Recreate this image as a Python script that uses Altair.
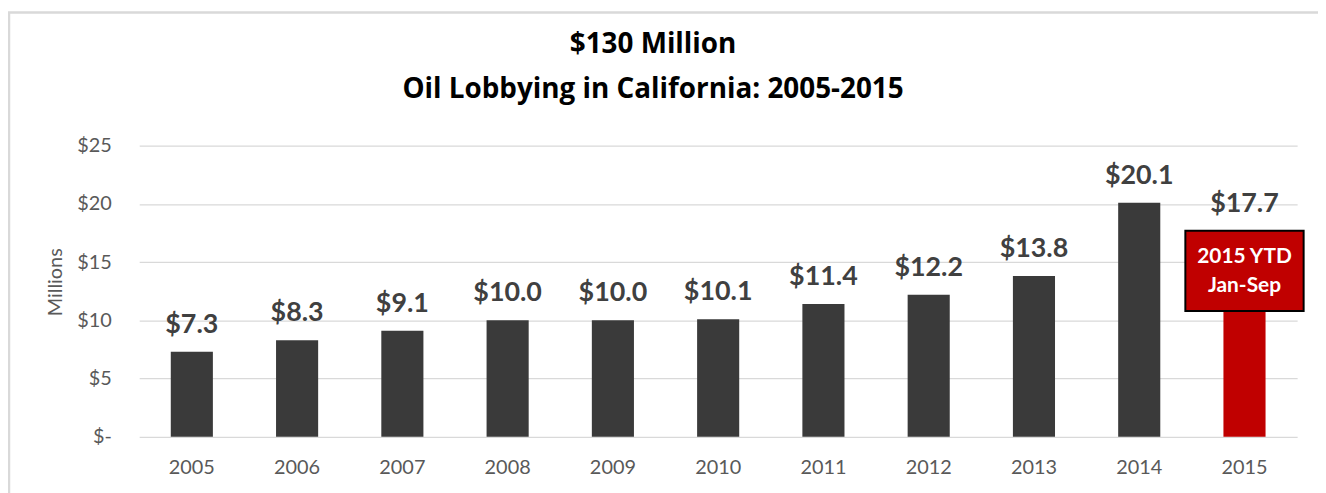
import altair as alt
import pandas as pd

years = ["2005", "2006", "2007", "2008", "2009", "2010", "2011", "2012", "2013", "2014", "2015"]
values = [7.3, 8.3, 9.1, 10.0, 10.0, 10.1, 11.4, 12.2, 13.8, 20.1, 17.7]

note_year = ["2015"]
note_top = [17.7]
note_bottom = [10.8]
note_lines = ["2015 YTD", "Jan-Sep"]
note_line_y = [14.93, 12.46]

title_lines = ["$130 Million", "Oil Lobbying in California: 2005-2015"]
y_ticks = [0, 5, 10, 15, 20, 25]

FONT = "Lato"
TITLE_FONT = "Open Sans"

df = pd.DataFrame({"year": years, "value": values})
box_df = pd.DataFrame({"year": note_year, "top": note_top, "bottom": note_bottom})
note_df = pd.DataFrame({"year": note_year * len(note_lines), "y": note_line_y, "label": note_lines})
one_df = pd.DataFrame({"k": [0]})

x_enc = alt.X(
    "year:N",
    sort=years,
    scale=alt.Scale(paddingInner=0.6, paddingOuter=0.3),
    axis=alt.Axis(
        title=None, labelAngle=0, domain=False, ticks=False,
        labelFont=FONT, labelFontSize=20, labelColor="#595959", labelPadding=21,
    ),
)
y_scale = alt.Scale(domain=[0, 25])

bars = alt.Chart(df).mark_bar().encode(
    x=x_enc,
    y=alt.Y(
        "value:Q",
        scale=y_scale,
        axis=alt.Axis(
            title="Millions", values=y_ticks, domain=False, ticks=False,
            labelExpr="datum.value == 0 ? '$-' : '$' + datum.value",
            labelFont=FONT, labelFontSize=20, labelColor="#595959", labelPadding=28,
            gridColor="#d9d9d9", gridWidth=1.2,
            titleFont=FONT, titleFontSize=20, titleFontWeight="normal", titleColor="#595959",
            titlePadding=11, titleY=137,
        ),
    ),
    color=alt.condition(alt.datum.year == "2015", alt.value("#c00000"), alt.value("#3a3a3a")),
)

labels = alt.Chart(df).mark_text(
    font=FONT, fontSize=27, fontWeight="bold", color="#404040", baseline="alphabetic", dy=-19
).encode(
    x=alt.X("year:N", sort=years),
    y=alt.Y("value:Q", scale=y_scale),
    text=alt.Text("value:Q", format="$.1f"),
)

box = alt.Chart(box_df).mark_bar(width=119, color="#c00000", stroke="#000000", strokeWidth=2).encode(
    x=alt.X("year:N", sort=years),
    y=alt.Y("top:Q", scale=y_scale),
    y2="bottom:Q",
)

note = alt.Chart(note_df).mark_text(
    font=FONT, fontSize=21, fontWeight="bold", color="white", baseline="alphabetic"
).encode(
    x=alt.X("year:N", sort=years),
    y=alt.Y("y:Q", scale=y_scale),
    text="label:N",
)

frame = alt.Chart(one_df).mark_rect(fill=None, stroke="#d9d9d9", strokeWidth=2.5).encode(
    x=alt.value(-131), x2=alt.value(1300), y=alt.value(-134), y2=alt.value(500)
)

title1 = alt.Chart(one_df).mark_text(
    font=TITLE_FONT, fontSize=28, fontWeight="bold", color="#000000", baseline="alphabetic", align="center",
    text=title_lines[0],
).encode(x=alt.value(517), y=alt.value(-93))

title2 = alt.Chart(one_df).mark_text(
    font=TITLE_FONT, fontSize=28, fontWeight="bold", color="#000000", baseline="alphabetic", align="center",
    text=title_lines[1],
).encode(x=alt.value(517), y=alt.value(-48))

chart = alt.layer(frame, bars, labels, box, note, title1, title2).properties(
    width=1165,
    height=293,
    padding={"left": 132, "top": 137, "right": 21, "bottom": 55},
    autosize=alt.AutoSizeParams(type="none"),
).configure(background="white", view=alt.ViewConfig(stroke=None))

chart.save("out.html", embed_options={"renderer": "svg", "actions": False})
